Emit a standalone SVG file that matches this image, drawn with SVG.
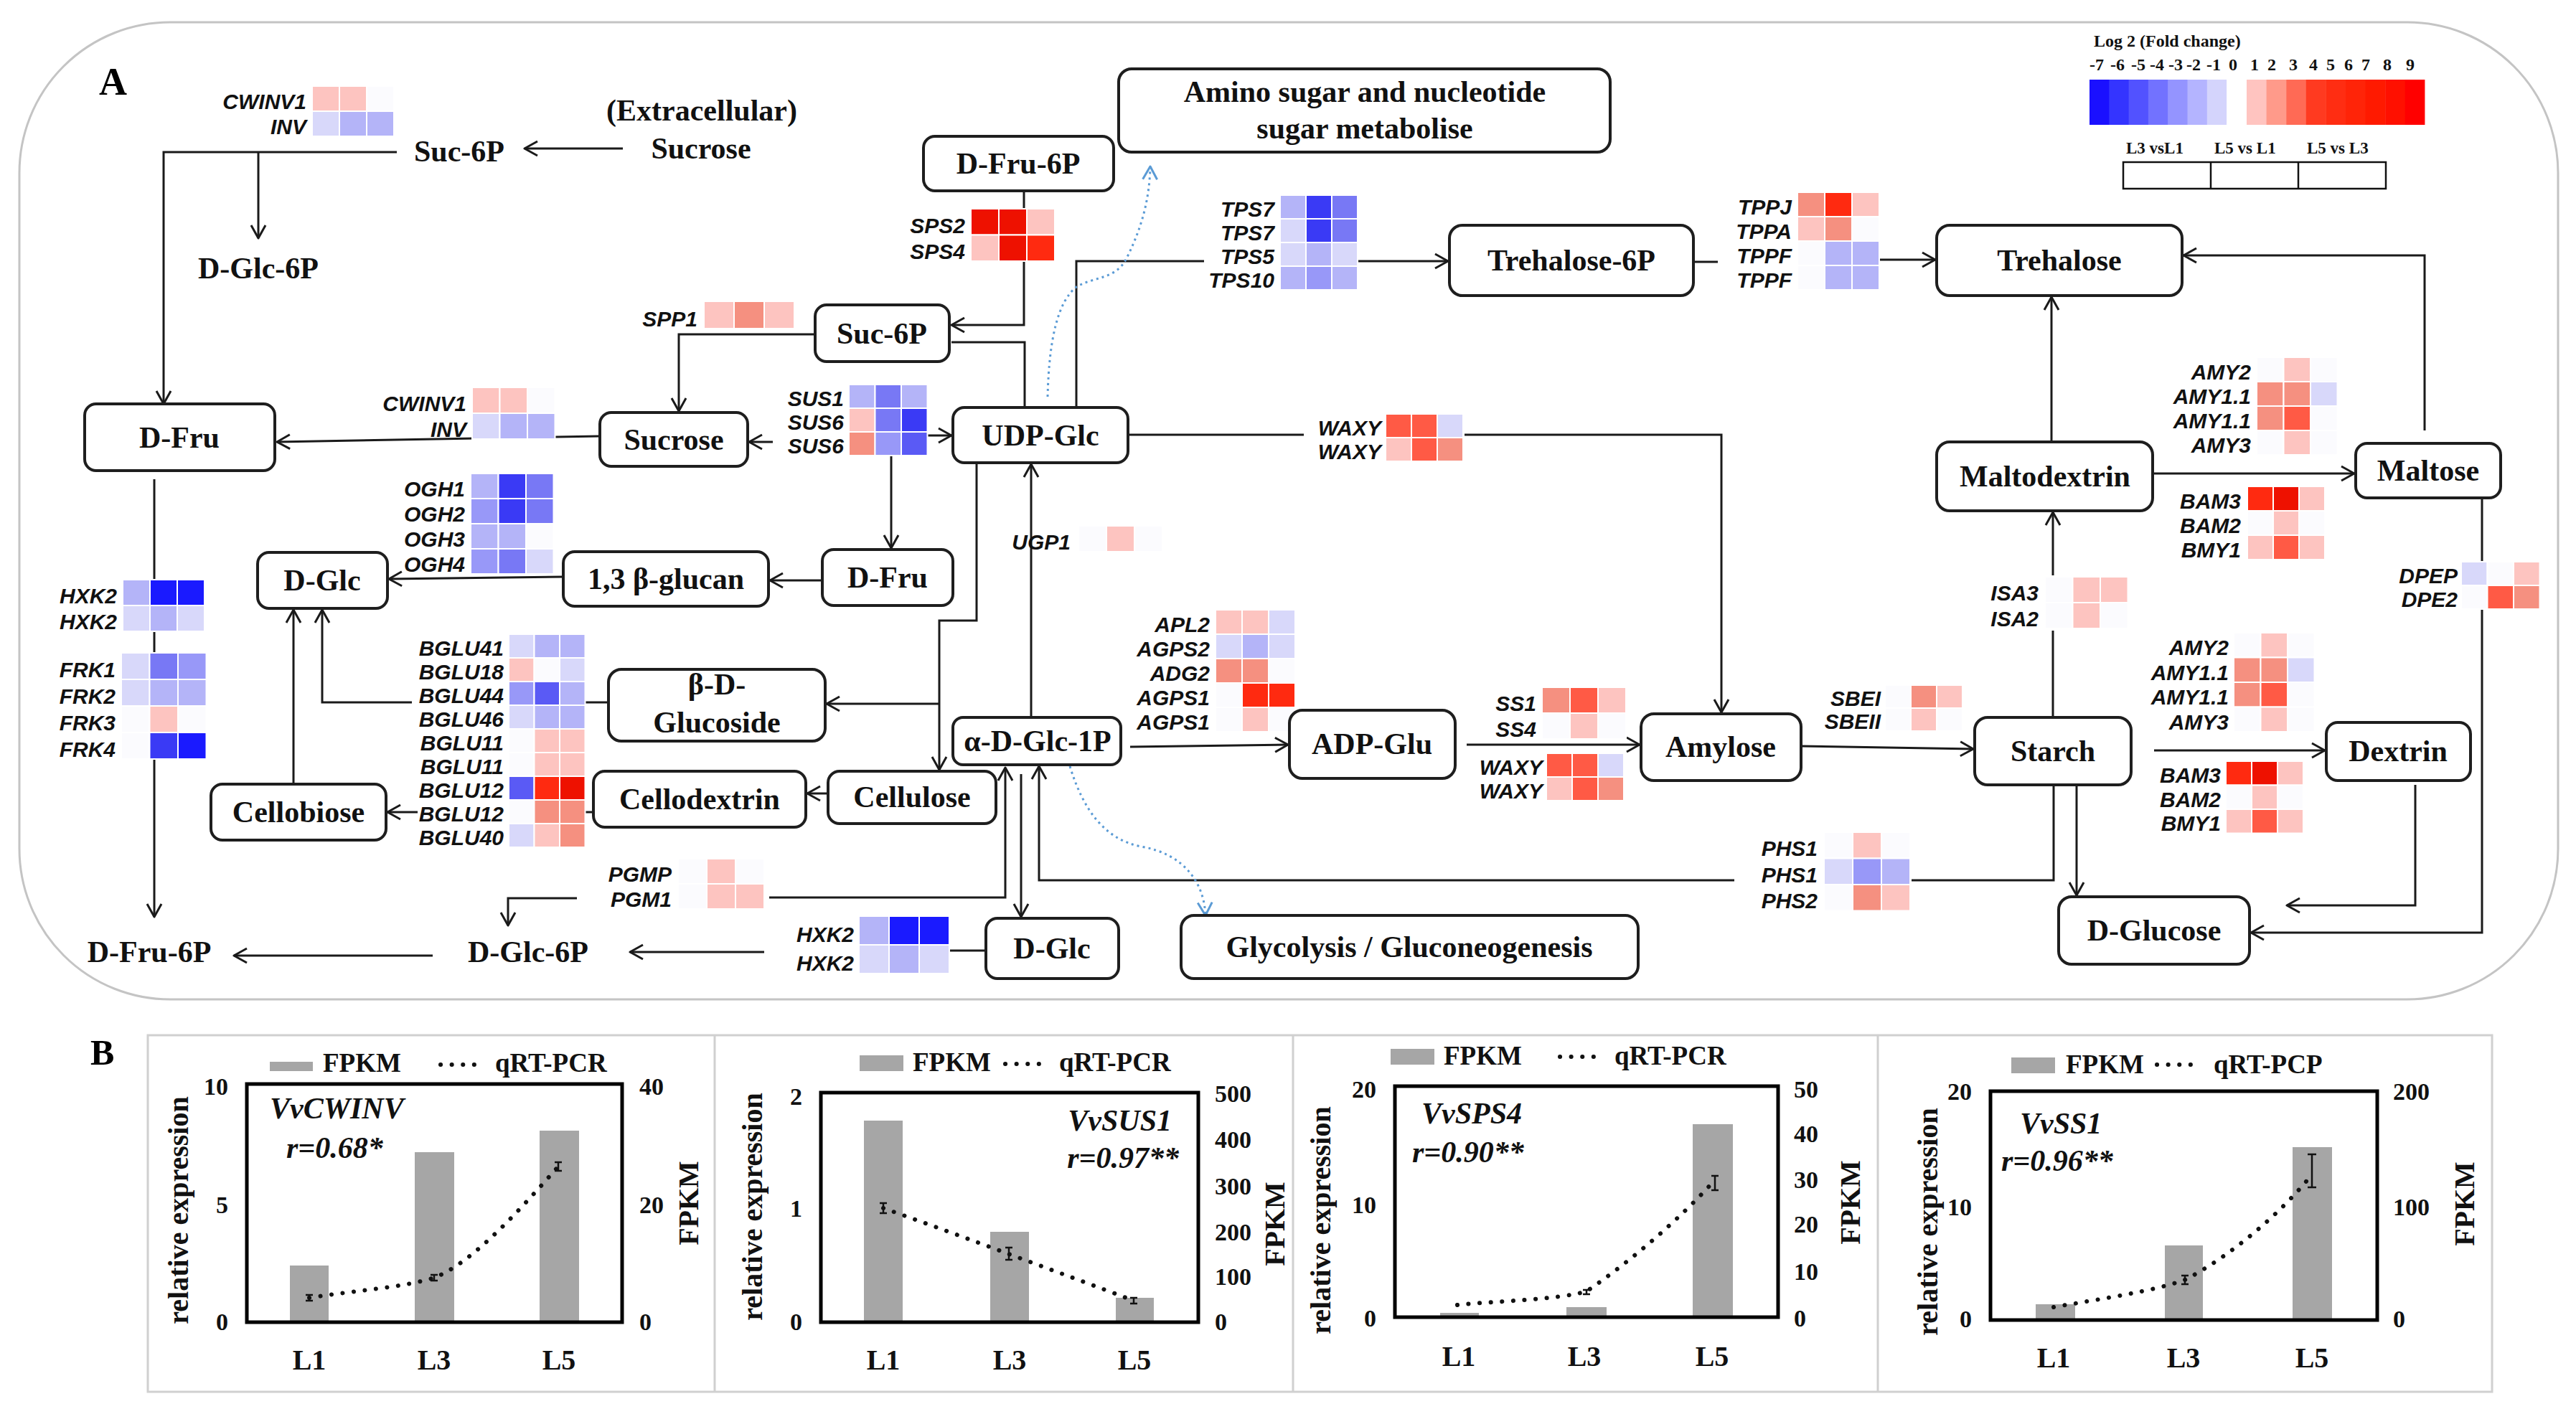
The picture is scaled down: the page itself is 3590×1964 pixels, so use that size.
<svg xmlns="http://www.w3.org/2000/svg" width="3590" height="1964" viewBox="0 0 3590 1964">
<style>
.bg{fill:#fff}
.panel{fill:none;stroke:#c4c4c4;stroke-width:3}
.node rect{fill:#fff;stroke:#1e1e1e;stroke-width:4}
.nt{font-family:'Liberation Serif','Times New Roman',serif;font-weight:bold;font-size:42px;text-anchor:middle;fill:#111}
.gl{font-family:'Liberation Sans',Arial,sans-serif;font-weight:bold;font-style:italic;font-size:30px;text-anchor:end;fill:#111}
.ln path{fill:none;stroke:#1a1a1a;stroke-width:3}
.ar{marker-end:url(#ah)}
.blue{stroke:#5b9bd5 !important;stroke-dasharray:3 5;marker-end:url(#ahb)}
.hm rect{stroke:#fff;stroke-width:2}
.w{fill:#fbfbfe}.b7{fill:#1a1aff}.b6{fill:#3a3af5}.b5{fill:#5a5af5}.b4{fill:#7878f5}.b3{fill:#9898f8}.b2{fill:#b4b4f8}.b1{fill:#d8d8fa}
.r1{fill:#fdc4c0}.r2{fill:#f59080}.r3{fill:#ff5a45}.r4{fill:#ff2a10}.r5{fill:#ee1100}
.lg{font-family:'Liberation Serif','Times New Roman',serif;font-weight:bold;font-size:24px;fill:#111}
.ax{font-family:'Liberation Serif','Times New Roman',serif;font-weight:bold;font-size:34px;fill:#111}
.ttl{font-family:'Liberation Serif','Times New Roman',serif;font-weight:bold;font-size:40px;fill:#111;text-anchor:middle}
.leg{font-family:'Liberation Serif','Times New Roman',serif;font-weight:bold;font-size:37px;fill:#111}
.gn{font-family:'Liberation Serif','Times New Roman',serif;font-weight:bold;font-style:italic;font-size:42px;fill:#111}
.bar{fill:#a6a6a6}
.frame{fill:none;stroke:#000;stroke-width:5}
.dots{fill:none;stroke:#111;stroke-width:6;stroke-dasharray:0.1 15.5;stroke-linecap:round}
.err{fill:none;stroke:#111;stroke-width:2.5}
</style>
<defs>
<marker id="ah" viewBox="0 0 24 24" refX="22" refY="12" markerWidth="24" markerHeight="24" markerUnits="userSpaceOnUse" orient="auto"><path d="M4,2 L22,12 L4,22" fill="none" stroke="#1a1a1a" stroke-width="3" stroke-linejoin="round"/></marker>
<marker id="ahb" viewBox="0 0 24 24" refX="22" refY="12" markerWidth="24" markerHeight="24" markerUnits="userSpaceOnUse" orient="auto"><path d="M4,2 L22,12 L4,22" fill="none" stroke="#5b9bd5" stroke-width="3" stroke-linejoin="round"/></marker>
</defs>
<rect class="bg" x="0" y="0" width="3590" height="1964"/>
<rect class="panel" x="27" y="31" width="3538" height="1362" rx="210" ry="210"/>
<text x="138" y="132" style="font-family:'Liberation Serif',serif;font-weight:bold;font-size:54px">A</text>

<g id="legend">
<text class="lg" x="2918" y="65">Log 2 (Fold change)</text>
<g class="lg" text-anchor="middle">
<text x="2922" y="98">-7</text><text x="2951" y="98">-6</text><text x="2980" y="98">-5</text><text x="3006" y="98">-4</text><text x="3032" y="98">-3</text><text x="3057" y="98">-2</text><text x="3085" y="98">-1</text><text x="3112" y="98">0</text>
<text x="3142" y="98">1</text><text x="3166" y="98">2</text><text x="3196" y="98">3</text><text x="3224" y="98">4</text><text x="3248" y="98">5</text><text x="3273" y="98">6</text><text x="3297" y="98">7</text><text x="3327" y="98">8</text><text x="3359" y="98">9</text>
</g>
<rect x="2912" y="111" width="28" height="63" fill="#1a10ff"/><rect x="2939.3" y="111" width="28" height="63" fill="#3434ff"/><rect x="2966.6" y="111" width="28" height="63" fill="#5252ff"/><rect x="2993.9" y="111" width="28" height="63" fill="#7272ff"/><rect x="3021.2" y="111" width="28" height="63" fill="#9494ff"/><rect x="3048.5" y="111" width="28" height="63" fill="#b4b4ff"/><rect x="3075.8" y="111" width="27.3" height="63" fill="#d4d4fc"/>
<rect x="3131" y="111" width="28" height="63" fill="#ffc4c0"/><rect x="3158.6" y="111" width="28" height="63" fill="#ff9a8a"/><rect x="3186.2" y="111" width="28" height="63" fill="#ff6a55"/><rect x="3213.8" y="111" width="28" height="63" fill="#ff3a20"/><rect x="3241.4" y="111" width="28" height="63" fill="#ff2d12"/><rect x="3269" y="111" width="28" height="63" fill="#ff2408"/><rect x="3296.6" y="111" width="28" height="63" fill="#ff1a00"/><rect x="3324.2" y="111" width="28" height="63" fill="#ff1000"/><rect x="3351.8" y="111" width="27.6" height="63" fill="#ff0000"/>
<text class="lg" x="2963" y="214" style="font-size:23px">L3 vsL1</text><text class="lg" x="3086" y="214" style="font-size:23px">L5 vs L1</text><text class="lg" x="3215" y="214" style="font-size:23px">L5 vs L3</text>
<rect x="2959" y="226" width="366" height="37" fill="none" stroke="#111" stroke-width="2.5"/>
<path d="M3081,226 V263 M3203,226 V263" stroke="#111" stroke-width="2.5"/>
</g>

<g id="connectors" class="ln">
<path class="ar" d="M868,207 H731"/>
<path class="ar" d="M553,212 H228 V563"/>
<path class="ar" d="M360,212 V332"/>
<path class="ar" d="M834,608 L386,616"/>
<path class="ar" d="M1136,466 H946 V573"/>
<path class="ar" d="M1427,266 V453 H1326"/>
<path d="M1326,477 H1428 V568"/>
<path d="M1500,568 V364 H1678"/>
<path class="ar" d="M1893,364 H2018"/>
<path d="M2360,365 H2394"/>
<path class="ar" d="M2620,362 H2697"/>
<path class="ar" d="M3379,600 V356 H3043"/>
<path class="ar" d="M2859,616 V414"/>
<path class="ar" d="M3000,660 H3281"/>
<path class="ar" d="M3459,694 V1300 H3137"/>
<path class="ar" d="M3366,1094 V1262 H3187"/>
<path class="ar" d="M2894,1090 V1248"/>
<path d="M2862,1094 V1227 H2664"/>
<path class="ar" d="M2417,1227 H1448 V1068"/>
<path d="M2861,998 V879"/>
<path class="ar" d="M2861,802 V714"/>
<path class="ar" d="M3002,1046 H3240"/>
<path class="ar" d="M2510,1040 L2750,1044"/>
<path class="ar" d="M2044,1038 H2285"/>
<path class="ar" d="M1575,1041 L1795,1038"/>
<path d="M1572,606 H1817"/>
<path class="ar" d="M2041,606 H2399 V993"/>
<path class="ar" d="M1437,1000 V647"/>
<path class="ar" d="M1242,634 V764"/>
<path class="ar" d="M1077,616 H1044"/>
<path class="ar" d="M1292,607 H1326"/>
<path class="ar" d="M1361,647 V865 H1309 V1073"/>
<path class="ar" d="M1309,981 H1152"/>
<path class="ar" d="M1154,1106 H1125"/>
<path d="M815,1132 H827"/>
<path class="ar" d="M582,1132 H540"/>
<path d="M815,979 H848"/>
<path class="ar" d="M574,979 H449 V850"/>
<path class="ar" d="M409,1093 V850"/>
<path class="ar" d="M784,804 L542,807"/>
<path class="ar" d="M1146,809 H1073"/>
<path class="ar" d="M215,668 V1278"/>
<path class="ar" d="M603,1332 H326"/>
<path d="M1374,1325 H1324"/>
<path class="ar" d="M1065,1327 H878"/>
<path class="ar" d="M1072,1251 H1401 V1070"/>
<path class="ar" d="M804,1252 H708 V1290"/>
<path class="ar" d="M1423,1079 V1278"/>
<path class="blue" d="M1460,553 C1462,470 1475,420 1500,400 C1525,385 1555,390 1570,360 C1590,320 1602,280 1603,232"/>
<path class="blue" d="M1491,1068 C1510,1130 1540,1170 1590,1180 C1650,1190 1678,1230 1680,1276"/>
</g>

<g id="hm-cwinv-top" class="hm">
<rect class="r1" x="435" y="120" width="38" height="35"/><rect class="r1" x="473" y="120" width="38" height="35"/><rect class="w" x="511" y="120" width="38" height="35"/>
<rect class="b1" x="435" y="155" width="38" height="35"/><rect class="b2" x="473" y="155" width="38" height="35"/><rect class="b2" x="511" y="155" width="38" height="35"/>
<text class="gl" x="427" y="152">CWINV1</text><text class="gl" x="427" y="187">INV</text>
</g>
<g id="hm-sps" class="hm">
<rect class="r5" x="1353" y="291" width="39" height="36.5"/><rect class="r5" x="1392" y="291" width="39" height="36.5"/><rect class="r1" x="1431" y="291" width="39" height="36.5"/>
<rect class="r1" x="1353" y="327.5" width="39" height="36.5"/><rect class="r5" x="1392" y="327.5" width="39" height="36.5"/><rect class="r4" x="1431" y="327.5" width="39" height="36.5"/>
<text class="gl" x="1345" y="325">SPS2</text><text class="gl" x="1345" y="361">SPS4</text>
</g>
<g id="hm-spp" class="hm">
<rect class="r1" x="981" y="420" width="42" height="38"/><rect class="r2" x="1023" y="420" width="42" height="38"/><rect class="r1" x="1065" y="420" width="42" height="38"/>
<text class="gl" x="972" y="455">SPP1</text>
</g>
<g id="hm-sus" class="hm">
<rect class="b2" x="1183" y="536" width="36.5" height="33"/><rect class="b4" x="1219.5" y="536" width="36.5" height="33"/><rect class="b2" x="1256" y="536" width="36.5" height="33"/>
<rect class="r1" x="1183" y="569" width="36.5" height="33"/><rect class="b4" x="1219.5" y="569" width="36.5" height="33"/><rect class="b6" x="1256" y="569" width="36.5" height="33"/>
<rect class="r2" x="1183" y="602" width="36.5" height="33"/><rect class="b3" x="1219.5" y="602" width="36.5" height="33"/><rect class="b5" x="1256" y="602" width="36.5" height="33"/>
<text class="gl" x="1176" y="566">SUS1</text><text class="gl" x="1176" y="599">SUS6</text><text class="gl" x="1176" y="632">SUS6</text>
</g>
<g id="hm-tps" class="hm">
<rect class="b2" x="1784" y="272" width="36" height="33"/><rect class="b6" x="1820" y="272" width="36" height="33"/><rect class="b4" x="1856" y="272" width="36" height="33"/>
<rect class="b1" x="1784" y="305" width="36" height="33"/><rect class="b6" x="1820" y="305" width="36" height="33"/><rect class="b4" x="1856" y="305" width="36" height="33"/>
<rect class="b1" x="1784" y="338" width="36" height="33"/><rect class="b2" x="1820" y="338" width="36" height="33"/><rect class="b1" x="1856" y="338" width="36" height="33"/>
<rect class="b2" x="1784" y="371" width="36" height="33"/><rect class="b3" x="1820" y="371" width="36" height="33"/><rect class="b2" x="1856" y="371" width="36" height="33"/>
<text class="gl" x="1776" y="302">TPS7</text><text class="gl" x="1776" y="335">TPS7</text><text class="gl" x="1776" y="368">TPS5</text><text class="gl" x="1776" y="401">TPS10</text>
</g>
<g id="hm-tpp" class="hm">
<rect class="r2" x="2505" y="268" width="38" height="34"/><rect class="r4" x="2543" y="268" width="38" height="34"/><rect class="r1" x="2581" y="268" width="38" height="34"/>
<rect class="r1" x="2505" y="302" width="38" height="34"/><rect class="r2" x="2543" y="302" width="38" height="34"/><rect class="w" x="2581" y="302" width="38" height="34"/>
<rect class="w" x="2505" y="336" width="38" height="34"/><rect class="b2" x="2543" y="336" width="38" height="34"/><rect class="b2" x="2581" y="336" width="38" height="34"/>
<rect class="w" x="2505" y="370" width="38" height="34"/><rect class="b2" x="2543" y="370" width="38" height="34"/><rect class="b2" x="2581" y="370" width="38" height="34"/>
<text class="gl" x="2497" y="299">TPPJ</text><text class="gl" x="2497" y="333">TPPA</text><text class="gl" x="2497" y="367">TPPF</text><text class="gl" x="2497" y="401">TPPF</text>
</g>
<g id="hm-cwinv-mid" class="hm">
<rect class="r1" x="658" y="540" width="38.5" height="36"/><rect class="r1" x="696.5" y="540" width="38.5" height="36"/><rect class="w" x="735" y="540" width="38.5" height="36"/>
<rect class="b1" x="658" y="576" width="38.5" height="36"/><rect class="b2" x="696.5" y="576" width="38.5" height="36"/><rect class="b2" x="735" y="576" width="38.5" height="36"/>
<text class="gl" x="650" y="573">CWINV1</text><text class="gl" x="650" y="609">INV</text>
</g>
<g id="hm-ogh" class="hm">
<rect class="b2" x="656" y="660" width="38.5" height="35"/><rect class="b6" x="694.5" y="660" width="38.5" height="35"/><rect class="b4" x="733" y="660" width="38.5" height="35"/>
<rect class="b3" x="656" y="695" width="38.5" height="35"/><rect class="b6" x="694.5" y="695" width="38.5" height="35"/><rect class="b4" x="733" y="695" width="38.5" height="35"/>
<rect class="b2" x="656" y="730" width="38.5" height="35"/><rect class="b2" x="694.5" y="730" width="38.5" height="35"/><rect class="w" x="733" y="730" width="38.5" height="35"/>
<rect class="b3" x="656" y="765" width="38.5" height="35"/><rect class="b4" x="694.5" y="765" width="38.5" height="35"/><rect class="b1" x="733" y="765" width="38.5" height="35"/>
<text class="gl" x="648" y="692">OGH1</text><text class="gl" x="648" y="727">OGH2</text><text class="gl" x="648" y="762">OGH3</text><text class="gl" x="648" y="797">OGH4</text>
</g>
<g id="hm-hxk-left" class="hm">
<rect class="b2" x="171" y="808" width="38" height="36"/><rect class="b7" x="209" y="808" width="38" height="36"/><rect class="b7" x="247" y="808" width="38" height="36"/>
<rect class="b1" x="171" y="844" width="38" height="36"/><rect class="b2" x="209" y="844" width="38" height="36"/><rect class="b1" x="247" y="844" width="38" height="36"/>
<text class="gl" x="163" y="841">HXK2</text><text class="gl" x="163" y="877">HXK2</text>
</g>
<g id="hm-frk" class="hm">
<rect class="b1" x="169" y="910" width="39.5" height="37"/><rect class="b4" x="208.5" y="910" width="39.5" height="37"/><rect class="b3" x="248" y="910" width="39.5" height="37"/>
<rect class="b1" x="169" y="947" width="39.5" height="37"/><rect class="b2" x="208.5" y="947" width="39.5" height="37"/><rect class="b2" x="248" y="947" width="39.5" height="37"/>
<rect class="w" x="169" y="984" width="39.5" height="37"/><rect class="r1" x="208.5" y="984" width="39.5" height="37"/><rect class="w" x="248" y="984" width="39.5" height="37"/>
<rect class="w" x="169" y="1021" width="39.5" height="37"/><rect class="b6" x="208.5" y="1021" width="39.5" height="37"/><rect class="b7" x="248" y="1021" width="39.5" height="37"/>
<text class="gl" x="161" y="944">FRK1</text><text class="gl" x="161" y="981">FRK2</text><text class="gl" x="161" y="1018">FRK3</text><text class="gl" x="161" y="1055">FRK4</text>
</g>
<g id="hm-bglu" class="hm">
<rect class="b1" x="709" y="884" width="35.5" height="33"/><rect class="b2" x="744.5" y="884" width="35.5" height="33"/><rect class="b2" x="780" y="884" width="35.5" height="33"/>
<rect class="r1" x="709" y="917" width="35.5" height="33"/><rect class="w" x="744.5" y="917" width="35.5" height="33"/><rect class="b1" x="780" y="917" width="35.5" height="33"/>
<rect class="b3" x="709" y="950" width="35.5" height="33"/><rect class="b5" x="744.5" y="950" width="35.5" height="33"/><rect class="b2" x="780" y="950" width="35.5" height="33"/>
<rect class="b1" x="709" y="983" width="35.5" height="33"/><rect class="b2" x="744.5" y="983" width="35.5" height="33"/><rect class="b2" x="780" y="983" width="35.5" height="33"/>
<rect class="w" x="709" y="1016" width="35.5" height="33"/><rect class="r1" x="744.5" y="1016" width="35.5" height="33"/><rect class="r1" x="780" y="1016" width="35.5" height="33"/>
<rect class="w" x="709" y="1049" width="35.5" height="33"/><rect class="r1" x="744.5" y="1049" width="35.5" height="33"/><rect class="r1" x="780" y="1049" width="35.5" height="33"/>
<rect class="b5" x="709" y="1082" width="35.5" height="33"/><rect class="r4" x="744.5" y="1082" width="35.5" height="33"/><rect class="r5" x="780" y="1082" width="35.5" height="33"/>
<rect class="w" x="709" y="1115" width="35.5" height="33"/><rect class="r2" x="744.5" y="1115" width="35.5" height="33"/><rect class="r2" x="780" y="1115" width="35.5" height="33"/>
<rect class="b1" x="709" y="1148" width="35.5" height="33"/><rect class="r1" x="744.5" y="1148" width="35.5" height="33"/><rect class="r2" x="780" y="1148" width="35.5" height="33"/>
<text class="gl" x="702" y="914">BGLU41</text><text class="gl" x="702" y="947">BGLU18</text><text class="gl" x="702" y="980">BGLU44</text><text class="gl" x="702" y="1013">BGLU46</text><text class="gl" x="702" y="1046">BGLU11</text><text class="gl" x="702" y="1079">BGLU11</text><text class="gl" x="702" y="1112">BGLU12</text><text class="gl" x="702" y="1145">BGLU12</text><text class="gl" x="702" y="1178">BGLU40</text>
</g>
<g id="hm-ugp" class="hm">
<rect class="w" x="1503" y="733" width="39" height="36"/><rect class="r1" x="1542" y="733" width="39" height="36"/><rect class="w" x="1581" y="733" width="39" height="36"/>
<text class="gl" x="1492" y="766">UGP1</text>
</g>
<g id="hm-agp" class="hm">
<rect class="r1" x="1694" y="850" width="37" height="34"/><rect class="r1" x="1731" y="850" width="37" height="34"/><rect class="b1" x="1768" y="850" width="37" height="34"/>
<rect class="b1" x="1694" y="884" width="37" height="34"/><rect class="b2" x="1731" y="884" width="37" height="34"/><rect class="b1" x="1768" y="884" width="37" height="34"/>
<rect class="r2" x="1694" y="918" width="37" height="34"/><rect class="r2" x="1731" y="918" width="37" height="34"/><rect class="w" x="1768" y="918" width="37" height="34"/>
<rect class="w" x="1694" y="952" width="37" height="34"/><rect class="r4" x="1731" y="952" width="37" height="34"/><rect class="r4" x="1768" y="952" width="37" height="34"/>
<rect class="w" x="1694" y="986" width="37" height="34"/><rect class="r1" x="1731" y="986" width="37" height="34"/><rect class="w" x="1768" y="986" width="37" height="34"/>
<text class="gl" x="1686" y="881">APL2</text><text class="gl" x="1686" y="915">AGPS2</text><text class="gl" x="1686" y="949">ADG2</text><text class="gl" x="1686" y="983">AGPS1</text><text class="gl" x="1686" y="1017">AGPS1</text>
</g>
<g id="hm-waxy-up" class="hm">
<rect class="r3" x="1931" y="577" width="36" height="33"/><rect class="r3" x="1967" y="577" width="36" height="33"/><rect class="b1" x="2003" y="577" width="36" height="33"/>
<rect class="r1" x="1931" y="610" width="36" height="33"/><rect class="r3" x="1967" y="610" width="36" height="33"/><rect class="r2" x="2003" y="610" width="36" height="33"/>
<text class="gl" x="1925" y="607">WAXY</text><text class="gl" x="1925" y="640">WAXY</text>
</g>
<g id="hm-ss" class="hm">
<rect class="r2" x="2149" y="958" width="39" height="36"/><rect class="r3" x="2188" y="958" width="39" height="36"/><rect class="r1" x="2227" y="958" width="39" height="36"/>
<rect class="w" x="2149" y="994" width="39" height="36"/><rect class="r1" x="2188" y="994" width="39" height="36"/><rect class="w" x="2227" y="994" width="39" height="36"/>
<text class="gl" x="2141" y="991">SS1</text><text class="gl" x="2141" y="1027">SS4</text>
</g>
<g id="hm-waxy-low" class="hm">
<rect class="r3" x="2155" y="1050" width="36" height="33"/><rect class="r3" x="2191" y="1050" width="36" height="33"/><rect class="b1" x="2227" y="1050" width="36" height="33"/>
<rect class="r1" x="2155" y="1083" width="36" height="33"/><rect class="r3" x="2191" y="1083" width="36" height="33"/><rect class="r2" x="2227" y="1083" width="36" height="33"/>
<text class="gl" x="2150" y="1080">WAXY</text><text class="gl" x="2150" y="1113">WAXY</text>
</g>
<g id="hm-sbe" class="hm">
<rect class="w" x="2627" y="955" width="36" height="32"/><rect class="r2" x="2663" y="955" width="36" height="32"/><rect class="r1" x="2699" y="955" width="36" height="32"/>
<rect class="w" x="2627" y="987" width="36" height="32"/><rect class="r1" x="2663" y="987" width="36" height="32"/><rect class="w" x="2699" y="987" width="36" height="32"/>
<text class="gl" x="2621" y="984">SBEI</text><text class="gl" x="2621" y="1016">SBEII</text>
</g>
<g id="hm-phs" class="hm">
<rect class="w" x="2542" y="1160" width="40" height="36.5"/><rect class="r1" x="2582" y="1160" width="40" height="36.5"/><rect class="w" x="2622" y="1160" width="40" height="36.5"/>
<rect class="b1" x="2542" y="1196.5" width="40" height="36.5"/><rect class="b3" x="2582" y="1196.5" width="40" height="36.5"/><rect class="b2" x="2622" y="1196.5" width="40" height="36.5"/>
<rect class="w" x="2542" y="1233" width="40" height="36.5"/><rect class="r2" x="2582" y="1233" width="40" height="36.5"/><rect class="r1" x="2622" y="1233" width="40" height="36.5"/>
<text class="gl" x="2533" y="1193">PHS1</text><text class="gl" x="2533" y="1230">PHS1</text><text class="gl" x="2533" y="1266">PHS2</text>
</g>
<g id="hm-amy-up" class="hm">
<rect class="w" x="3145" y="498" width="37.5" height="34"/><rect class="r1" x="3182.5" y="498" width="37.5" height="34"/><rect class="w" x="3220" y="498" width="37.5" height="34"/>
<rect class="r2" x="3145" y="532" width="37.5" height="34"/><rect class="r2" x="3182.5" y="532" width="37.5" height="34"/><rect class="b1" x="3220" y="532" width="37.5" height="34"/>
<rect class="r2" x="3145" y="566" width="37.5" height="34"/><rect class="r3" x="3182.5" y="566" width="37.5" height="34"/><rect class="w" x="3220" y="566" width="37.5" height="34"/>
<rect class="w" x="3145" y="600" width="37.5" height="34"/><rect class="r1" x="3182.5" y="600" width="37.5" height="34"/><rect class="w" x="3220" y="600" width="37.5" height="34"/>
<text class="gl" x="3137" y="529">AMY2</text><text class="gl" x="3137" y="563">AMY1.1</text><text class="gl" x="3137" y="597">AMY1.1</text><text class="gl" x="3137" y="631">AMY3</text>
</g>
<g id="hm-bam-up" class="hm">
<rect class="r4" x="3132" y="678" width="36" height="34"/><rect class="r5" x="3168" y="678" width="36" height="34"/><rect class="r1" x="3204" y="678" width="36" height="34"/>
<rect class="w" x="3132" y="712" width="36" height="34"/><rect class="r1" x="3168" y="712" width="36" height="34"/><rect class="w" x="3204" y="712" width="36" height="34"/>
<rect class="r1" x="3132" y="746" width="36" height="34"/><rect class="r3" x="3168" y="746" width="36" height="34"/><rect class="r1" x="3204" y="746" width="36" height="34"/>
<text class="gl" x="3123" y="709">BAM3</text><text class="gl" x="3123" y="743">BAM2</text><text class="gl" x="3123" y="777">BMY1</text>
</g>
<g id="hm-isa" class="hm">
<rect class="w" x="2850" y="804" width="38.5" height="36"/><rect class="r1" x="2888.5" y="804" width="38.5" height="36"/><rect class="r1" x="2927" y="804" width="38.5" height="36"/>
<rect class="w" x="2850" y="840" width="38.5" height="36"/><rect class="r1" x="2888.5" y="840" width="38.5" height="36"/><rect class="w" x="2927" y="840" width="38.5" height="36"/>
<text class="gl" x="2841" y="837">ISA3</text><text class="gl" x="2841" y="873">ISA2</text>
</g>
<g id="hm-dpe" class="hm">
<rect class="b1" x="3430" y="783" width="36.5" height="33"/><rect class="w" x="3466.5" y="783" width="36.5" height="33"/><rect class="r1" x="3503" y="783" width="36.5" height="33"/>
<rect class="w" x="3430" y="816" width="36.5" height="33"/><rect class="r3" x="3466.5" y="816" width="36.5" height="33"/><rect class="r2" x="3503" y="816" width="36.5" height="33"/>
<text class="gl" x="3425" y="813">DPEP</text><text class="gl" x="3425" y="846">DPE2</text>
</g>
<g id="hm-amy-low" class="hm">
<rect class="w" x="3113" y="882" width="37.5" height="34.5"/><rect class="r1" x="3150.5" y="882" width="37.5" height="34.5"/><rect class="w" x="3188" y="882" width="37.5" height="34.5"/>
<rect class="r2" x="3113" y="916.5" width="37.5" height="34.5"/><rect class="r2" x="3150.5" y="916.5" width="37.5" height="34.5"/><rect class="b1" x="3188" y="916.5" width="37.5" height="34.5"/>
<rect class="r2" x="3113" y="951" width="37.5" height="34.5"/><rect class="r3" x="3150.5" y="951" width="37.5" height="34.5"/><rect class="w" x="3188" y="951" width="37.5" height="34.5"/>
<rect class="w" x="3113" y="985.5" width="37.5" height="34.5"/><rect class="r1" x="3150.5" y="985.5" width="37.5" height="34.5"/><rect class="w" x="3188" y="985.5" width="37.5" height="34.5"/>
<text class="gl" x="3106" y="913">AMY2</text><text class="gl" x="3106" y="948">AMY1.1</text><text class="gl" x="3106" y="982">AMY1.1</text><text class="gl" x="3106" y="1017">AMY3</text>
</g>
<g id="hm-bam-low" class="hm">
<rect class="r4" x="3102" y="1061" width="36" height="33.5"/><rect class="r5" x="3138" y="1061" width="36" height="33.5"/><rect class="r1" x="3174" y="1061" width="36" height="33.5"/>
<rect class="w" x="3102" y="1094.5" width="36" height="33.5"/><rect class="r1" x="3138" y="1094.5" width="36" height="33.5"/><rect class="w" x="3174" y="1094.5" width="36" height="33.5"/>
<rect class="r1" x="3102" y="1128" width="36" height="33.5"/><rect class="r3" x="3138" y="1128" width="36" height="33.5"/><rect class="r1" x="3174" y="1128" width="36" height="33.5"/>
<text class="gl" x="3095" y="1091">BAM3</text><text class="gl" x="3095" y="1125">BAM2</text><text class="gl" x="3095" y="1158">BMY1</text>
</g>
<g id="hm-pgm" class="hm">
<rect class="w" x="945" y="1197" width="40" height="35"/><rect class="r1" x="985" y="1197" width="40" height="35"/><rect class="w" x="1025" y="1197" width="40" height="35"/>
<rect class="w" x="945" y="1232" width="40" height="35"/><rect class="r1" x="985" y="1232" width="40" height="35"/><rect class="r1" x="1025" y="1232" width="40" height="35"/>
<text class="gl" x="936" y="1229">PGMP</text><text class="gl" x="936" y="1264">PGM1</text>
</g>
<g id="hm-hxk-bottom" class="hm">
<rect class="b2" x="1197" y="1277" width="42" height="40"/><rect class="b7" x="1239" y="1277" width="42" height="40"/><rect class="b7" x="1281" y="1277" width="42" height="40"/>
<rect class="b1" x="1197" y="1317" width="42" height="40"/><rect class="b2" x="1239" y="1317" width="42" height="40"/><rect class="b1" x="1281" y="1317" width="42" height="40"/>
<text class="gl" x="1190" y="1313">HXK2</text><text class="gl" x="1190" y="1353">HXK2</text>
</g>

<g id="n-extracellular"><text class="nt" x="978" y="168">(Extracellular)</text><text class="nt" x="977" y="221">Sucrose</text></g>
<g id="n-suc6p-text"><text class="nt" x="640" y="225">Suc-6P</text></g>
<g id="n-dglc6p-top"><text class="nt" x="360" y="388">D-Glc-6P</text></g>
<g id="n-dfru6p-bottom"><text class="nt" x="208" y="1341">D-Fru-6P</text></g>
<g id="n-dglc6p-bottom"><text class="nt" x="736" y="1341">D-Glc-6P</text></g>
<g id="n-dfru-left" class="node"><rect x="118" y="563" width="265" height="93" rx="16"/><text class="nt" x="250" y="624">D-Fru</text></g>
<g id="n-sucrose" class="node"><rect x="836" y="575" width="206" height="75" rx="16"/><text class="nt" x="939" y="627">Sucrose</text></g>
<g id="n-suc6p" class="node"><rect x="1136" y="425" width="187" height="79" rx="16"/><text class="nt" x="1229" y="479">Suc-6P</text></g>
<g id="n-udpglc" class="node"><rect x="1328" y="568" width="244" height="77" rx="16"/><text class="nt" x="1450" y="621">UDP-Glc</text></g>
<g id="n-dfru6p-top" class="node"><rect x="1287" y="190" width="265" height="76" rx="16"/><text class="nt" x="1419" y="242">D-Fru-6P</text></g>
<g id="n-amino" class="node"><rect x="1559" y="96" width="685" height="116" rx="18"/><text class="nt" x="1902" y="142">Amino sugar and nucleotide</text><text class="nt" x="1902" y="193">sugar metabolise</text></g>
<g id="n-treh6p" class="node"><rect x="2020" y="314" width="340" height="98" rx="18"/><text class="nt" x="2190" y="377">Trehalose-6P</text></g>
<g id="n-treh" class="node"><rect x="2699" y="314" width="342" height="98" rx="18"/><text class="nt" x="2870" y="377">Trehalose</text></g>
<g id="n-maltodextrin" class="node"><rect x="2699" y="616" width="301" height="96" rx="18"/><text class="nt" x="2850" y="678">Maltodextrin</text></g>
<g id="n-maltose" class="node"><rect x="3283" y="618" width="202" height="76" rx="16"/><text class="nt" x="3384" y="670">Maltose</text></g>
<g id="n-dglc-left" class="node"><rect x="359" y="770" width="181" height="78" rx="16"/><text class="nt" x="449" y="823">D-Glc</text></g>
<g id="n-glucan" class="node"><rect x="785" y="769" width="286" height="76" rx="16"/><text class="nt" x="928" y="821">1,3 β-glucan</text></g>
<g id="n-dfru-mid" class="node"><rect x="1146" y="766" width="182" height="78" rx="16"/><text class="nt" x="1237" y="819">D-Fru</text></g>
<g id="n-glucoside" class="node"><rect x="848" y="933" width="302" height="100" rx="18"/><text class="nt" x="999" y="968">β-D-</text><text class="nt" x="999" y="1021">Glucoside</text></g>
<g id="n-cellodextrin" class="node"><rect x="827" y="1075" width="296" height="78" rx="16"/><text class="nt" x="975" y="1128">Cellodextrin</text></g>
<g id="n-cellulose" class="node"><rect x="1154" y="1075" width="234" height="73" rx="16"/><text class="nt" x="1271" y="1125">Cellulose</text></g>
<g id="n-cellobiose" class="node"><rect x="294" y="1093" width="244" height="78" rx="16"/><text class="nt" x="416" y="1146">Cellobiose</text></g>
<g id="n-aglc1p" class="node"><rect x="1328" y="1000" width="234" height="66" rx="14"/><text class="nt" x="1446" y="1047">α-D-Glc-1P</text></g>
<g id="n-adpglu" class="node"><rect x="1797" y="990" width="231" height="95" rx="18"/><text class="nt" x="1912" y="1051">ADP-Glu</text></g>
<g id="n-amylose" class="node"><rect x="2287" y="995" width="223" height="93" rx="18"/><text class="nt" x="2398" y="1055">Amylose</text></g>
<g id="n-starch" class="node"><rect x="2752" y="1000" width="218" height="94" rx="18"/><text class="nt" x="2861" y="1061">Starch</text></g>
<g id="n-dextrin" class="node"><rect x="3242" y="1007" width="201" height="81" rx="16"/><text class="nt" x="3342" y="1061">Dextrin</text></g>
<g id="n-dglucose" class="node"><rect x="2869" y="1250" width="266" height="94" rx="18"/><text class="nt" x="3002" y="1311">D-Glucose</text></g>
<g id="n-dglc-bottom" class="node"><rect x="1374" y="1280" width="185" height="84" rx="16"/><text class="nt" x="1466" y="1336">D-Glc</text></g>
<g id="n-glycolysis" class="node"><rect x="1646" y="1276" width="637" height="88" rx="18"/><text class="nt" x="1964" y="1334">Glycolysis / Gluconeogenesis</text></g>

<g id="panel-b">
<text x="126" y="1484" style="font-family:'Liberation Serif',serif;font-weight:bold;font-size:50px">B</text>
<rect x="206" y="1443" width="3267" height="497" fill="none" stroke="#d0d0d0" stroke-width="3"/>
<path d="M996,1443 V1940 M1802,1443 V1940 M2617,1443 V1940" stroke="#d0d0d0" stroke-width="3"/>
</g>

<g id="chart-cwinv">
<rect class="bar" x="376" y="1480" width="60" height="13"/><text class="leg" x="450" y="1494">FPKM</text><path class="dots" d="M614,1484 H674"/><text class="leg" x="690" y="1494">qRT-PCR</text>
<rect class="bar" x="404" y="1764" width="54" height="79"/><rect class="bar" x="578" y="1606" width="55" height="237"/><rect class="bar" x="752" y="1576" width="55" height="267"/>
<rect class="frame" x="344" y="1511" width="523" height="332"/>
<path class="dots" d="M431,1809 C500,1798 560,1795 605,1781 C660,1760 730,1680 778,1626"/>
<path class="err" d="M431,1805 V1813 M426,1805 H436 M426,1813 H436 M605,1777 V1785 M600,1777 H610 M600,1785 H610 M778,1620 V1632 M773,1620 H783 M773,1632 H783"/>
<g class="ax" text-anchor="end"><text x="318" y="1526">10</text><text x="318" y="1691">5</text><text x="318" y="1854">0</text></g>
<g class="ax"><text x="891" y="1526">40</text><text x="891" y="1691">20</text><text x="891" y="1854">0</text></g>
<text class="ttl" transform="translate(262,1687) rotate(-90)">relative expression</text>
<text class="ttl" transform="translate(973,1677) rotate(-90)">FPKM</text>
<g class="ttl"><text x="431" y="1909">L1</text><text x="605" y="1909">L3</text><text x="779" y="1909">L5</text></g>
<text class="gn" x="376" y="1559">VvCWINV</text><text class="gn" x="399" y="1614">r=0.68*</text>
</g>

<g id="chart-sus">
<rect class="bar" x="1198" y="1471" width="61" height="22"/><text class="leg" x="1272" y="1493">FPKM</text><path class="dots" d="M1401,1483 H1463"/><text class="leg" x="1476" y="1493">qRT-PCR</text>
<rect class="bar" x="1204" y="1562" width="54" height="281"/><rect class="bar" x="1380" y="1717" width="54" height="126"/><rect class="bar" x="1555" y="1809" width="53" height="34"/>
<rect class="frame" x="1144" y="1523" width="526" height="320"/>
<path class="dots" d="M1231,1684 C1290,1705 1350,1727 1406,1748 C1465,1770 1525,1792 1580,1813"/>
<path class="err" d="M1231,1677 V1691 M1226,1677 H1236 M1226,1691 H1236 M1406,1739 V1756 M1401,1739 H1411 M1401,1756 H1411 M1580,1809 V1817 M1575,1809 H1585 M1575,1817 H1585"/>
<g class="ax" text-anchor="end"><text x="1118" y="1540">2</text><text x="1118" y="1696">1</text><text x="1118" y="1854">0</text></g>
<g class="ax"><text x="1693" y="1536">500</text><text x="1693" y="1600">400</text><text x="1693" y="1665">300</text><text x="1693" y="1729">200</text><text x="1693" y="1791">100</text><text x="1693" y="1854">0</text></g>
<text class="ttl" transform="translate(1062,1682) rotate(-90)">relative expression</text>
<text class="ttl" transform="translate(1790,1706) rotate(-90)">FPKM</text>
<g class="ttl"><text x="1231" y="1909">L1</text><text x="1407" y="1909">L3</text><text x="1581" y="1909">L5</text></g>
<text class="gn" x="1633" y="1576" text-anchor="end">VvSUS1</text><text class="gn" x="1643" y="1628" text-anchor="end">r=0.97**</text>
</g>

<g id="chart-sps">
<rect class="bar" x="1938" y="1462" width="61" height="22"/><text class="leg" x="2012" y="1484">FPKM</text><path class="dots" d="M2174,1473 H2235"/><text class="leg" x="2250" y="1484">qRT-PCR</text>
<rect class="bar" x="2007" y="1830" width="54" height="6"/><rect class="bar" x="2183" y="1822" width="56" height="14"/><rect class="bar" x="2359" y="1567" width="56" height="269"/>
<rect class="frame" x="1944" y="1514" width="534" height="322"/>
<path class="dots" d="M2031,1819 C2090,1813 2170,1812 2211,1800 C2270,1760 2340,1700 2386,1649"/>
<path class="err" d="M2031,1816 V1822 M2211,1798 V1804 M2206,1798 H2216 M2206,1804 H2216 M2390,1639 V1659 M2385,1639 H2395 M2385,1659 H2395"/>
<g class="ax" text-anchor="end"><text x="1918" y="1530">20</text><text x="1918" y="1691">10</text><text x="1918" y="1849">0</text></g>
<g class="ax"><text x="2500" y="1530">50</text><text x="2500" y="1592">40</text><text x="2500" y="1656">30</text><text x="2500" y="1718">20</text><text x="2500" y="1784">10</text><text x="2500" y="1849">0</text></g>
<text class="ttl" transform="translate(1854,1701) rotate(-90)">relative expression</text>
<text class="ttl" transform="translate(2592,1676) rotate(-90)">FPKM</text>
<g class="ttl"><text x="2033" y="1904">L1</text><text x="2208" y="1904">L3</text><text x="2386" y="1904">L5</text></g>
<text class="gn" x="1981" y="1566">VvSPS4</text><text class="gn" x="1968" y="1620">r=0.90**</text>
</g>

<g id="chart-ss">
<rect class="bar" x="2803" y="1474" width="61" height="22"/><text class="leg" x="2879" y="1496">FPKM</text><path class="dots" d="M3006,1484 H3068"/><text class="leg" x="3085" y="1496">qRT-PCP</text>
<rect class="bar" x="2837" y="1818" width="55" height="22"/><rect class="bar" x="3017" y="1736" width="53" height="104"/><rect class="bar" x="3195" y="1599" width="55" height="241"/>
<rect class="frame" x="2774" y="1521" width="539" height="319"/>
<path class="dots" d="M2862,1822 C2930,1810 3000,1800 3045,1784 C3110,1750 3180,1690 3222,1637"/>
<path class="err" d="M2862,1819 V1825 M3045,1778 V1790 M3040,1778 H3050 M3040,1790 H3050 M3222,1609 V1655 M3216,1609 H3228 M3216,1655 H3228"/>
<g class="ax" text-anchor="end"><text x="2748" y="1533">20</text><text x="2748" y="1694">10</text><text x="2748" y="1850">0</text></g>
<g class="ax"><text x="3335" y="1533">200</text><text x="3335" y="1694">100</text><text x="3335" y="1850">0</text></g>
<text class="ttl" transform="translate(2700,1703) rotate(-90)">relative expression</text>
<text class="ttl" transform="translate(3448,1678) rotate(-90)">FPKM</text>
<g class="ttl"><text x="2862" y="1906">L1</text><text x="3043" y="1906">L3</text><text x="3222" y="1906">L5</text></g>
<text class="gn" x="2815" y="1580">VvSS1</text><text class="gn" x="2789" y="1632">r=0.96**</text>
</g>
</svg>
